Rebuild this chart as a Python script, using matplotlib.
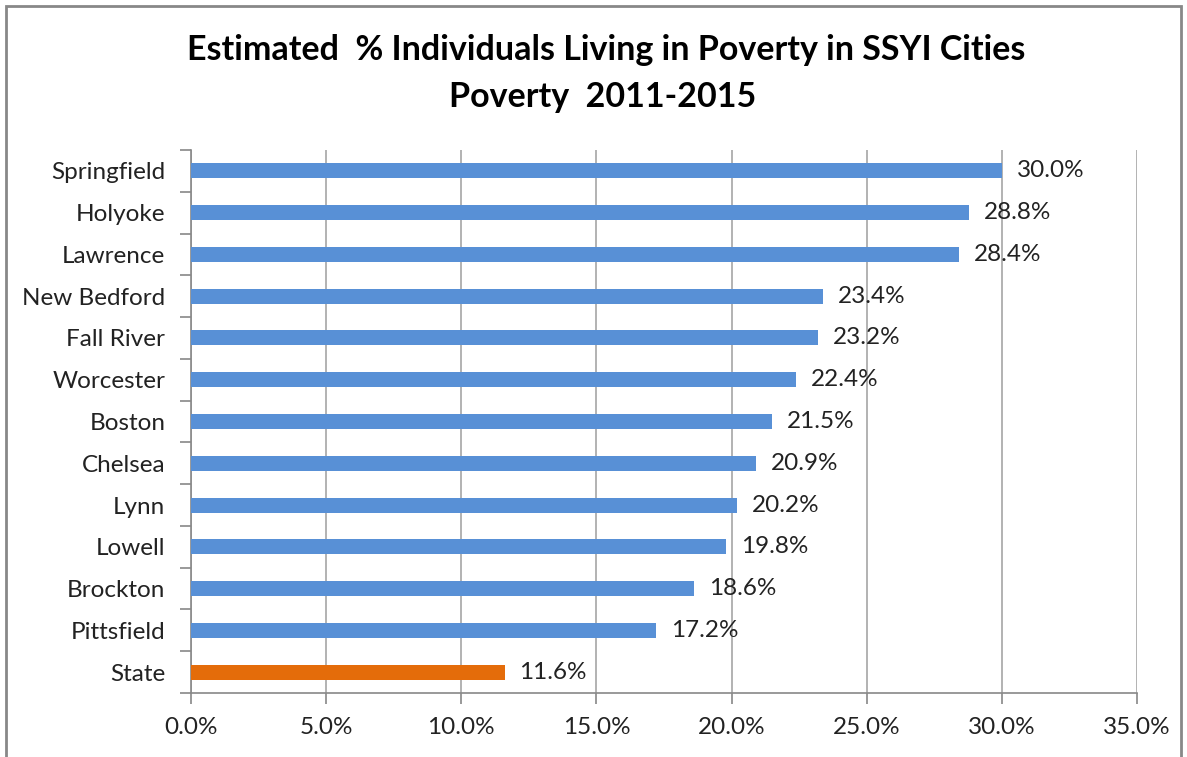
import numpy as np
import matplotlib.pyplot as plt
from matplotlib.patches import Rectangle

# Fonts
plt.rcParams.update({
    'font.family': ['Lato', 'DejaVu Sans'],
    'font.size': 17.5,
})

# Data
cities = ['Springfield', 'Holyoke', 'Lawrence', 'New Bedford', 'Fall River',
          'Worcester', 'Boston', 'Chelsea', 'Lynn', 'Lowell', 'Brockton',
          'Pittsfield', 'State']
poverty = [30.0, 28.8, 28.4, 23.4, 23.2, 22.4, 21.5, 20.9, 20.2, 19.8, 18.6,
           17.2, 11.6]
bar_colors = ['#5890D6'] * 12 + ['#E46C0A']
x_ticks = [0, 5, 10, 15, 20, 25, 30, 35]

fig = plt.figure(figsize=(11.87, 7.57), dpi=100)
ax = fig.add_axes([191 / 1187, 1 - 693 / 757, (1137 - 191) / 1187, (693 - 150) / 757])

y = np.arange(len(cities))[::-1]
ax.barh(y, poverty, height=0.36, color=bar_colors, zorder=3)

for yi, v in zip(y, poverty):
    ax.text(v + 0.55, yi, f'{v:.1f}%', va='center', ha='left', fontsize=17.5,
            color='#222222', zorder=4)

ax.set_xlim(0, 35)
ax.set_ylim(-0.5, len(cities) - 0.5)
ax.set_xticks(x_ticks)
ax.set_xticklabels([f'{t:.1f}%' for t in x_ticks])
ax.set_yticks(y)
ax.set_yticklabels(cities)
ax.set_yticks(np.arange(len(cities) + 1) - 0.5, minor=True)

ax.grid(axis='x', color='#A6A6A6', linewidth=1.2, zorder=0)
for s in ['top', 'right']:
    ax.spines[s].set_visible(False)
for s in ['left', 'bottom']:
    ax.spines[s].set_color('#888888')
    ax.spines[s].set_linewidth(1.2)

ax.tick_params(axis='y', which='major', length=0, pad=18.5, labelsize=17.5, labelcolor='#222222')
ax.tick_params(axis='y', which='minor', length=8, color='#888888', width=1.2)
ax.tick_params(axis='x', length=8, color='#888888', width=1.2, pad=9,
               labelsize=17.5, labelcolor='#222222')

fig.text(606 / 1187, 1 - 50 / 757, 'Estimated  % Individuals Living in Poverty in SSYI Cities',
         ha='center', va='center', fontsize=24.5, fontweight='bold')
fig.text(603 / 1187, 1 - 97 / 757, 'Poverty  2011-2015',
         ha='center', va='center', fontsize=24.5, fontweight='bold')

# Chart border
fig.patches.append(Rectangle((6 / 1187, -0.01), 1175 / 1187, 1 - 6 / 757 + 0.01,
                             transform=fig.transFigure, fill=False,
                             edgecolor='#888888', linewidth=2))

fig.savefig('out.png', dpi=100)
